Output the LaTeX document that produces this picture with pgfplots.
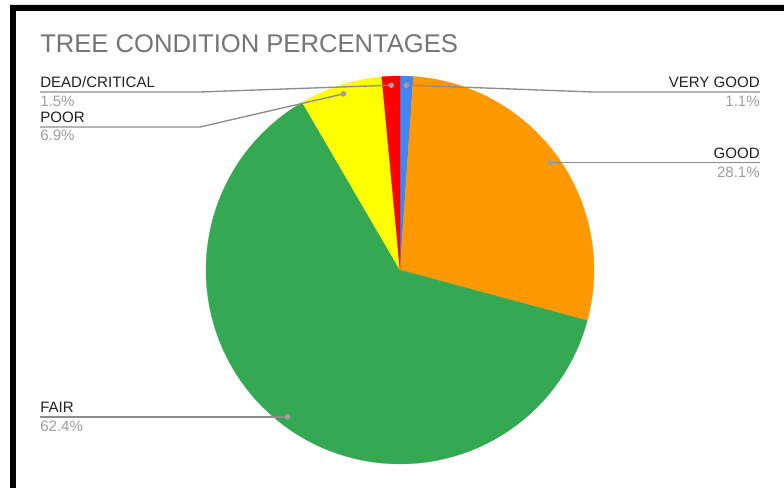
\documentclass[border=0pt]{standalone}
\usepackage{pgfplots}
\usepackage{pgfplotstable}
\usepackage{fontspec}
\setmainfont{Liberation Sans}
\pgfplotsset{compat=1.18}

\definecolor{cVG}{HTML}{4285F4}
\definecolor{cGood}{HTML}{FF9900}
\definecolor{cFair}{HTML}{34A853}
\definecolor{cPoor}{HTML}{FFFF00}
\definecolor{cDead}{HTML}{FF0000}
\definecolor{titlegray}{HTML}{757575}
\definecolor{pctgray}{HTML}{9E9E9E}
\definecolor{linegray}{HTML}{8C8C8C}
\definecolor{labelblack}{HTML}{222222}

% share of trees in each condition class (percent), clockwise from 12 o'clock
\pgfplotstableread[col sep=comma]{
label,value
VERY GOOD,1.1
GOOD,28.1
FAIR,62.4
POOR,6.9
DEAD/CRITICAL,1.5
}\conditiontable

\pgfplotstablegetelem{0}{value}\of\conditiontable \let\vA\pgfplotsretval
\pgfplotstablegetelem{1}{value}\of\conditiontable \let\vB\pgfplotsretval
\pgfplotstablegetelem{2}{value}\of\conditiontable \let\vC\pgfplotsretval
\pgfplotstablegetelem{3}{value}\of\conditiontable \let\vD\pgfplotsretval
\pgfplotstablegetelem{4}{value}\of\conditiontable \let\vE\pgfplotsretval

% pie geometry (canvas units)
\def\cx{400}
\def\cy{218}
\def\R{194}
\def\rd{185}

% slice boundaries, going clockwise from the top
\pgfmathsetmacro\aZero{90}
\pgfmathsetmacro\aOne{\aZero-3.6*\vA}
\pgfmathsetmacro\aTwo{\aOne-3.6*\vB}
\pgfmathsetmacro\aThree{\aTwo-3.6*\vC}
\pgfmathsetmacro\aFour{\aThree-3.6*\vD}
\pgfmathsetmacro\aFive{\aFour-3.6*\vE}

% leader-line anchor dots at the middle of each slice
\pgfmathsetmacro\xA{\cx+\rd*cos((\aZero+\aOne)/2)}
\pgfmathsetmacro\yA{\cy+\rd*sin((\aZero+\aOne)/2)}
\pgfmathsetmacro\xB{\cx+\rd*cos((\aOne+\aTwo)/2)}
\pgfmathsetmacro\yB{\cy+\rd*sin((\aOne+\aTwo)/2)}
\pgfmathsetmacro\xC{\cx+\rd*cos((\aTwo+\aThree)/2)}
\pgfmathsetmacro\yC{\cy+\rd*sin((\aTwo+\aThree)/2)}
\pgfmathsetmacro\xD{\cx+\rd*cos((\aThree+\aFour)/2)}
\pgfmathsetmacro\yD{\cy+\rd*sin((\aThree+\aFour)/2)}
\pgfmathsetmacro\xE{\cx+\rd*cos((\aFour+\aFive)/2)}
\pgfmathsetmacro\yE{\cy+\rd*sin((\aFour+\aFive)/2)}

\begin{document}
\begin{tikzpicture}
\begin{axis}[
  width=588pt, height=366pt, scale only axis,
  xmin=0, xmax=784, ymin=0, ymax=488,
  hide axis, clip=false,
  every axis plot/.append style={line join=round},
]
% page background and frame
\fill[white] (axis cs:0,0) rectangle (axis cs:784,488);
\fill[black!12] (axis cs:10,483.5) rectangle (axis cs:784,484.3);
\fill[black] (axis cs:10,477) rectangle (axis cs:784,483);
\fill[black] (axis cs:10,0) rectangle (axis cs:16,483);

% slices
\addplot[draw=cVG, line width=0.2pt, fill=cVG, domain=\aOne:\aZero, samples=20, variable=\t]
  ({\cx+\R*cos(\t)}, {\cy+\R*sin(\t)}) -- (axis cs:\cx,\cy) -- cycle;
\addplot[draw=cGood, line width=0.2pt, fill=cGood, domain=\aTwo:\aOne, samples=80, variable=\t]
  ({\cx+\R*cos(\t)}, {\cy+\R*sin(\t)}) -- (axis cs:\cx,\cy) -- cycle;
\addplot[draw=cFair, line width=0.2pt, fill=cFair, domain=\aThree:\aTwo, samples=160, variable=\t]
  ({\cx+\R*cos(\t)}, {\cy+\R*sin(\t)}) -- (axis cs:\cx,\cy) -- cycle;
\addplot[draw=cPoor, line width=0.2pt, fill=cPoor, domain=\aFour:\aThree, samples=30, variable=\t]
  ({\cx+\R*cos(\t)}, {\cy+\R*sin(\t)}) -- (axis cs:\cx,\cy) -- cycle;
\addplot[draw=cDead, line width=0.2pt, fill=cDead, domain=\aFive:\aFour, samples=20, variable=\t]
  ({\cx+\R*cos(\t)}, {\cy+\R*sin(\t)}) -- (axis cs:\cx,\cy) -- cycle;

% leader lines
\draw[linegray, line width=1pt] (axis cs:\xA,\yA) -- (axis cs:593,396) -- (axis cs:760,396);
\draw[linegray, line width=1pt] (axis cs:\xB,\yB) -- (axis cs:760,\yB);
\draw[linegray, line width=1pt] (axis cs:\xC,\yC) -- (axis cs:40,\yC);
\draw[linegray, line width=1pt] (axis cs:\xD,\yD) -- (axis cs:200,361) -- (axis cs:40,361);
\draw[linegray, line width=1pt] (axis cs:\xE,\yE) -- (axis cs:200,396) -- (axis cs:40,396);

\addplot[only marks, mark=*, mark size=1.9pt, color=pctgray] coordinates {
  (\xA,\yA) (\xB,\yB) (\xC,\yC) (\xD,\yD) (\xE,\yE)
};

% title
\node[anchor=base west, inner sep=0pt, text=titlegray, font=\fontsize{19.2pt}{22pt}\selectfont]
  at (axis cs:40,435) {TREE CONDITION PERCENTAGES};

% labels
\tikzset{lab/.style={inner sep=0pt, text=labelblack, font=\fontsize{11.3pt}{13pt}\selectfont},
         pct/.style={inner sep=0pt, text=pctgray, font=\fontsize{11.3pt}{13pt}\selectfont}}
\node[lab, anchor=base east] at (axis cs:760,400.5) {VERY GOOD};
\node[pct, anchor=base east] at (axis cs:760,381.5) {1.1\%};
\node[lab, anchor=base east] at (axis cs:760,\yB+4.5) {GOOD};
\node[pct, anchor=base east] at (axis cs:760,\yB-14.5) {28.1\%};
\node[lab, anchor=base west] at (axis cs:40,\yC+4.5) {FAIR};
\node[pct, anchor=base west] at (axis cs:40,\yC-14.5) {62.4\%};
\node[lab, anchor=base west] at (axis cs:40,365.5) {POOR};
\node[pct, anchor=base west] at (axis cs:40,347) {6.9\%};
\node[lab, anchor=base west] at (axis cs:40,400.5) {DEAD/CRITICAL};
\node[pct, anchor=base west] at (axis cs:40,381.5) {1.5\%};
\end{axis}
\end{tikzpicture}
\end{document}
